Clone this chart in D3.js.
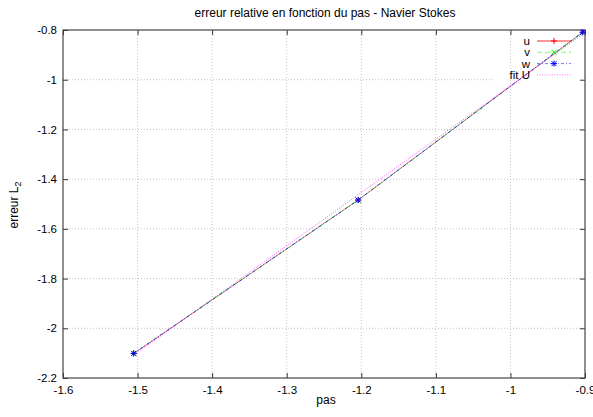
<!DOCTYPE html>
<html><head><meta charset="utf-8">
<script src="https://cdn.jsdelivr.net/npm/d3@7"></script>
<style>
body{margin:0;background:#fff}
text{font-family:"Liberation Sans",Arial,Helvetica,sans-serif;fill:#000}
</style>
</head><body><svg id="c" width="593" height="417"></svg>
<script>
// ---- data ----
const xValues   = [-1.50515, -1.20412, -0.90309];   // log10(pas)
const uValues   = [-2.101, -1.484, -0.809];
const vValues   = [-2.101, -1.484, -0.809];
const wValues   = [-2.101, -1.484, -0.809];
const fitXValues = [-1.50515, -0.90309];
const fitValues  = [-2.108, -0.817];
const xTicks = [-1.6, -1.5, -1.4, -1.3, -1.2, -1.1, -1, -0.9];
const yTicks = [-2.2, -2, -1.8, -1.6, -1.4, -1.2, -1, -0.8];
const seriesNames = ["u", "v", "w", "fit U"];
const titleText = "erreur relative en fonction du pas - Navier Stokes";
const xLabel = "pas";

// ---- layout ----
const L = 63, R = 585, T = 30, B = 378;
const svg = d3.select("#c");
const x = d3.scaleLinear().domain([-1.6, -0.9]).range([L, R]);
const y = d3.scaleLinear().domain([-2.2, -0.8]).range([B, T]);

const colors = ["#ff0000", "#00ff00", "#0000ff", "#ff00ff"];
const dashes = [null, "5,3", "3,2,1,2", "1,1.5"];
const key = {xl: 493, xr: 585, yt: 33, yb: 82};

// grid
const grid = svg.append("g").attr("stroke", "#c4c4c4").attr("stroke-width", 1)
  .attr("stroke-dasharray", "1,2");
xTicks.slice(1, -1).forEach(t => {
  grid.append("line").attr("x1", x(t)).attr("x2", x(t)).attr("y1", B).attr("y2", T);
});
yTicks.slice(1, -1).forEach(t => {
  const yy = y(t);
  const x2 = (yy > key.yt && yy < key.yb) ? key.xl : R;
  grid.append("line").attr("x1", L).attr("x2", x2).attr("y1", yy).attr("y2", yy);
});

// axes
const fmt = d => String(d);
function styleAxis(g) {
  g.select(".domain").remove();
  g.selectAll(".tick line").attr("stroke", "#333").attr("stroke-width", 1);
  g.selectAll(".tick text").attr("font-size", "11.5px")
    .attr("font-family", '"Liberation Sans",Arial,sans-serif').attr("fill", "#000");
}
svg.append("g").attr("transform", `translate(0,${B})`)
  .call(d3.axisBottom(x).tickValues(xTicks).tickFormat(fmt).tickSizeInner(-5).tickSizeOuter(0).tickPadding(8))
  .call(styleAxis);
svg.append("g").attr("transform", `translate(0,${T})`)
  .call(d3.axisTop(x).tickValues(xTicks).tickFormat("").tickSizeInner(-5).tickSizeOuter(0))
  .call(styleAxis);
svg.append("g").attr("transform", `translate(${L},0)`)
  .call(d3.axisLeft(y).tickValues(yTicks).tickFormat(fmt).tickSizeInner(-5).tickSizeOuter(0).tickPadding(6))
  .call(styleAxis);
svg.append("g").attr("transform", `translate(${R},0)`)
  .call(d3.axisRight(y).tickValues(yTicks).tickFormat("").tickSizeInner(-5).tickSizeOuter(0))
  .call(styleAxis);

// border
svg.append("rect").attr("x", L).attr("y", T).attr("width", R - L).attr("height", B - T)
  .attr("fill", "none").attr("stroke", "#454545").attr("stroke-width", 1.2);

// markers
const plusPath = "M-3,0H3M0,-3V3";
const crossPath = "M-2.5,-2.5L2.5,2.5M-2.5,2.5L2.5,-2.5";
const starPath = plusPath + crossPath;
const markerPaths = [plusPath, crossPath, starPath, null];

const line = d3.line().x(d => x(d[0])).y(d => y(d[1]));
const seriesData = [
  xValues.map((v, i) => [v, uValues[i]]),
  xValues.map((v, i) => [v, vValues[i]]),
  xValues.map((v, i) => [v, wValues[i]]),
  fitXValues.map((v, i) => [v, fitValues[i]])
];

const lineOpacity = [0.5, 0.7, 0.7, 0.7];
seriesData.forEach((data, k) => {
  const p = svg.append("path").datum(data).attr("d", line)
    .attr("fill", "none").attr("stroke", colors[k]).attr("stroke-width", 1)
    .attr("stroke-opacity", lineOpacity[k]);
  if (dashes[k]) p.attr("stroke-dasharray", dashes[k]);
});
seriesData.forEach((data, k) => {
  if (!markerPaths[k]) return;
  svg.append("g").selectAll("path").data(data).join("path")
    .attr("transform", d => `translate(${x(d[0])},${y(d[1])})`)
    .attr("d", markerPaths[k]).attr("fill", "none")
    .attr("stroke", colors[k]).attr("stroke-width", 1);
});

// legend
seriesNames.forEach((name, k) => {
  const ry = 41 + k * 11.3;
  svg.append("text").attr("x", 530).attr("y", ry + 4).attr("text-anchor", "end")
    .attr("font-size", "11.5px").text(name);
  const p = svg.append("line").attr("x1", 537).attr("x2", 571).attr("y1", ry).attr("y2", ry)
    .attr("stroke", colors[k]).attr("stroke-width", k === 0 ? 1.6 : 1).attr("stroke-opacity", 0.55);
  if (dashes[k]) p.attr("stroke-dasharray", dashes[k]);
  if (markerPaths[k]) {
    svg.append("path").attr("transform", `translate(554,${ry})`).attr("d", markerPaths[k])
      .attr("fill", "none").attr("stroke", colors[k]).attr("stroke-width", 1);
  }
});

// title and labels
svg.append("text").attr("x", 325).attr("y", 17).attr("text-anchor", "middle")
  .attr("font-size", "12px").text(titleText);
svg.append("text").attr("x", 326).attr("y", 404).attr("text-anchor", "middle")
  .attr("font-size", "12px").text(xLabel);
const yl = svg.append("text").attr("transform", "translate(17.5,205) rotate(-90)")
  .attr("text-anchor", "middle").attr("font-size", "12px");
yl.append("tspan").text("erreur L");
yl.append("tspan").attr("font-size", "9px").attr("dy", "3").text("2");
</script>
</body></html>
